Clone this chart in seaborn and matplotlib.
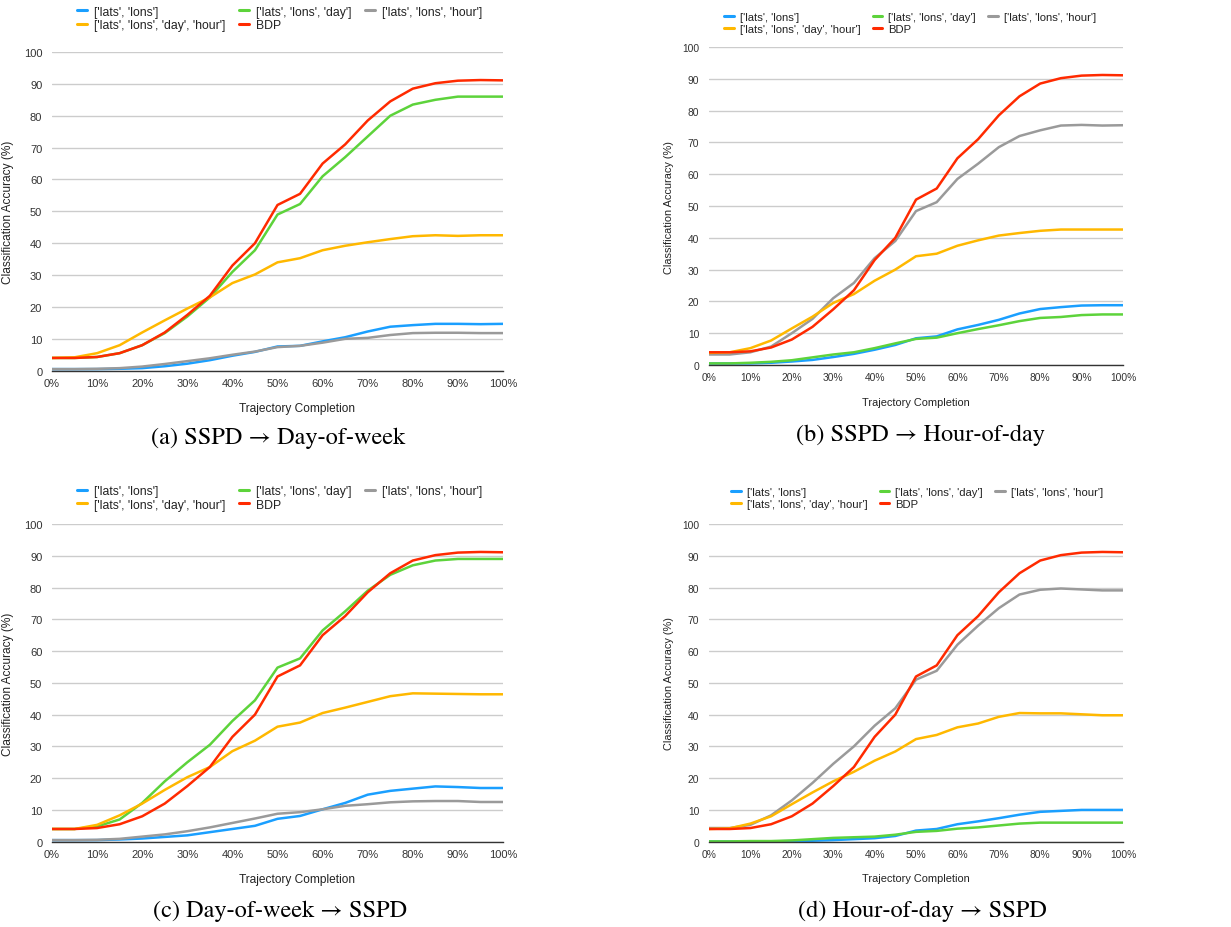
import numpy as np
import pandas as pd
import seaborn as sns
import matplotlib
matplotlib.use("Agg")
import matplotlib.pyplot as plt
from matplotlib.lines import Line2D

# ---------------- data ----------------
completion = [0, 5, 10, 15, 20, 25, 30, 35, 40, 45, 50, 55, 60, 65, 70, 75, 80, 85, 90, 95, 100]

series_names = ["['lats', 'lons']", "['lats', 'lons', 'day']", "['lats', 'lons', 'hour']",
                "['lats', 'lons', 'day', 'hour']", "BDP"]

bdp = [4, 4, 4.3, 5.5, 8, 12, 17.5, 23.5, 33, 40, 52, 55.5, 65, 71, 78.5, 84.5, 88.5, 90.2, 91, 91.2, 91.1]

# (a) SSPD -> Day-of-week
a_lats_lons = [0.5, 0.5, 0.5, 0.6, 0.8, 1.4, 2.2, 3.3, 4.7, 5.9, 7.6, 7.8, 9.2, 10.5, 12.3, 13.8, 14.3, 14.7, 14.7, 14.6, 14.7]
a_day = [4, 4, 4.3, 5.5, 8, 11.8, 17, 23, 31, 37.8, 49, 52.3, 61, 67, 73.5, 80, 83.5, 85, 86, 86, 86]
a_hour = [0.5, 0.5, 0.6, 0.8, 1.3, 2.1, 3.0, 3.9, 5.0, 6.0, 7.4, 7.8, 8.8, 10.0, 10.3, 11.2, 11.8, 11.9, 11.9, 11.8, 11.8]
a_day_hour = [4, 4.2, 5.5, 8, 12, 15.8, 19.5, 23, 27.5, 30.2, 34, 35.3, 37.8, 39.2, 40.3, 41.3, 42.2, 42.5, 42.3, 42.5, 42.5]

# (b) SSPD -> Hour-of-day
b_lats_lons = [0.5, 0.5, 0.5, 0.7, 1.1, 1.6, 2.5, 3.5, 4.8, 6.3, 8.4, 9.0, 11.2, 12.6, 14.2, 16.2, 17.6, 18.2, 18.7, 18.8, 18.8]
b_day = [0.5, 0.5, 0.7, 1.0, 1.5, 2.4, 3.3, 4.0, 5.3, 6.8, 8.2, 8.6, 10.0, 11.3, 12.5, 13.8, 14.8, 15.1, 15.7, 15.9, 15.9]
b_hour = [3.3, 3.3, 4, 5.8, 10, 14.5, 21, 25.8, 33.6, 39, 48.4, 51.2, 58.5, 63.3, 68.5, 72, 73.8, 75.3, 75.5, 75.3, 75.4]
b_day_hour = [3.8, 4.0, 5.3, 7.7, 11.5, 15.2, 19.5, 22.3, 26.5, 30, 34.2, 35, 37.5, 39.2, 40.7, 41.5, 42.2, 42.6, 42.6, 42.6, 42.6]

# (c) Day-of-week -> SSPD
c_lats_lons = [0.5, 0.5, 0.5, 0.7, 1, 1.5, 2, 3, 4, 5, 7.2, 8.1, 10.2, 12.2, 14.8, 16, 16.7, 17.4, 17.2, 16.9, 16.9]
c_day = [4, 4, 4.8, 7, 12.2, 19, 25, 30.5, 38, 44.5, 54.8, 57.7, 66.5, 72.5, 79, 84, 87, 88.5, 89, 89, 89]
c_hour = [0.5, 0.5, 0.6, 0.9, 1.6, 2.3, 3.3, 4.5, 5.9, 7.3, 8.8, 9.3, 10.2, 11.3, 11.8, 12.4, 12.7, 12.8, 12.8, 12.5, 12.5]
c_day_hour = [4, 4, 5.3, 8.3, 12, 16.3, 20.3, 23.5, 28.5, 31.8, 36.2, 37.5, 40.5, 42.2, 44, 45.8, 46.7, 46.6, 46.5, 46.4, 46.4]

# (d) Hour-of-day -> SSPD
d_lats_lons = [0.1, 0.1, 0.1, 0.1, 0.2, 0.3, 0.5, 0.8, 1.1, 1.8, 3.5, 4, 5.5, 6.4, 7.4, 8.5, 9.4, 9.7, 10, 10, 10]
d_day = [0.1, 0.1, 0.2, 0.2, 0.4, 0.8, 1.2, 1.4, 1.6, 2.2, 3.1, 3.4, 4.1, 4.5, 5.1, 5.7, 6.0, 6.0, 6.0, 6.0, 6.0]
d_hour = [4.3, 4.3, 5.3, 8.3, 13, 18.5, 24.5, 30, 36.5, 42, 51, 53.8, 62, 68, 73.5, 77.8, 79.3, 79.7, 79.4, 79.1, 79.1]
d_day_hour = [4, 4.2, 5.7, 8, 11.8, 15.5, 19, 22, 25.5, 28.4, 32.3, 33.6, 36, 37.2, 39.3, 40.5, 40.4, 40.4, 40.1, 39.8, 39.8]

captions = ["(a) SSPD \u2192 Day-of-week", "(b) SSPD \u2192 Hour-of-day",
            "(c) Day-of-week \u2192 SSPD", "(d) Hour-of-day \u2192 SSPD"]
x_label = "Trajectory Completion"
y_label = "Classification Accuracy (%)"

panels = [
    [a_lats_lons, a_day, a_hour, a_day_hour, bdp],
    [b_lats_lons, b_day, b_hour, b_day_hour, bdp],
    [c_lats_lons, c_day, c_hour, c_day_hour, bdp],
    [d_lats_lons, d_day, d_hour, d_day_hour, bdp],
]

colors = ["#1A9FFF", "#5DD33B", "#9A9A9A", "#FFB800", "#FF2A00"]

# ---------------- style ----------------
sns.set_style("white")
plt.rcParams["font.family"] = ["Liberation Sans", "DejaVu Sans"]

W, H = 1231, 928
fig = plt.figure(figsize=(W / 100, H / 100), dpi=100)

def fx(px):
    return px / W

def fy(py):
    return 1 - py / H

# layout in pixels: (left, right, top, bottom)
boxes = [(52, 503, 53, 371.7), (709, 1123, 48, 366), (52, 503, 525, 842.7), (709, 1123, 525, 842.7)]
legend_pos = [(77, 19.5), (724, 24.2), (77, 498.7), (731, 498.7)]
ylabel_x = [14, 674, 14, 674]
xlabel_pos = [(297, 403), (916, 397.7), (297, 874), (916, 874)]
caption_pos = [(278, 438), (920, 435), (280, 911), (922, 911)]
scale = [1.0, 0.92, 1.0, 0.92]

for i, vals in enumerate(panels):
    l, r, t, b = boxes[i]
    s_ = scale[i]
    ax = fig.add_axes([fx(l), fy(b), (r - l) / W, (b - t) / H])
    df = pd.DataFrame({"completion": completion * len(series_names),
                       "acc": [v for s in vals for v in s],
                       "series": [n for n in series_names for _ in completion]})
    sns.lineplot(data=df, x="completion", y="acc", hue="series", hue_order=series_names,
                 palette=colors, ax=ax, linewidth=1.8, legend=False)
    ax.set_xlim(0, 100)
    ax.set_ylim(0, 100)
    ax.set_xticks(range(0, 101, 10))
    ax.set_xticklabels([f"{v}%" for v in range(0, 101, 10)])
    ax.set_yticks(range(0, 101, 10))
    ax.tick_params(axis="both", length=0, labelsize=8 * s_, colors="#333333")
    ax.tick_params(axis="y", pad=7)
    ax.tick_params(axis="x", pad=5)
    ax.grid(axis="y", color="#CCCCCC", linewidth=1.0)
    ax.set_axisbelow(True)
    for s in ["top", "right", "left"]:
        ax.spines[s].set_visible(False)
    ax.spines["bottom"].set_color("#333333")
    ax.spines["bottom"].set_linewidth(1.0)
    ax.spines["bottom"].set_zorder(5)

    ax.set_xlabel(x_label, fontsize=8.6 * s_, color="#222222")
    ax.set_ylabel(y_label, fontsize=8.6 * s_, color="#222222")
    xl, yl = xlabel_pos[i]
    ax.xaxis.set_label_coords(fx(xl), fy(yl), transform=fig.transFigure)
    ax.yaxis.set_label_coords(fx(ylabel_x[i]), fy((t + b) / 2), transform=fig.transFigure)

    order = [0, 3, 1, 4, 2]
    handles = [Line2D([], [], color=colors[k], linewidth=2.2) for k in order]
    labels = [series_names[k] for k in order]
    lx, ly = legend_pos[i]
    ax.legend(handles, labels, loc="center left", bbox_to_anchor=(fx(lx), fy(ly)),
              bbox_transform=fig.transFigure, ncol=3, frameon=False, fontsize=8.8 * s_,
              handlelength=0.85, handletextpad=0.55, columnspacing=1.1,
              labelspacing=0.15, borderpad=0, borderaxespad=0, labelcolor="#222222")

    cx, cy = caption_pos[i]
    fig.text(fx(cx), fy(cy), captions[i], ha="center", va="center", fontsize=17.5,
             family=["STIXGeneral", "Liberation Serif", "DejaVu Serif"], color="black")

fig.savefig("out.png", dpi=100)
